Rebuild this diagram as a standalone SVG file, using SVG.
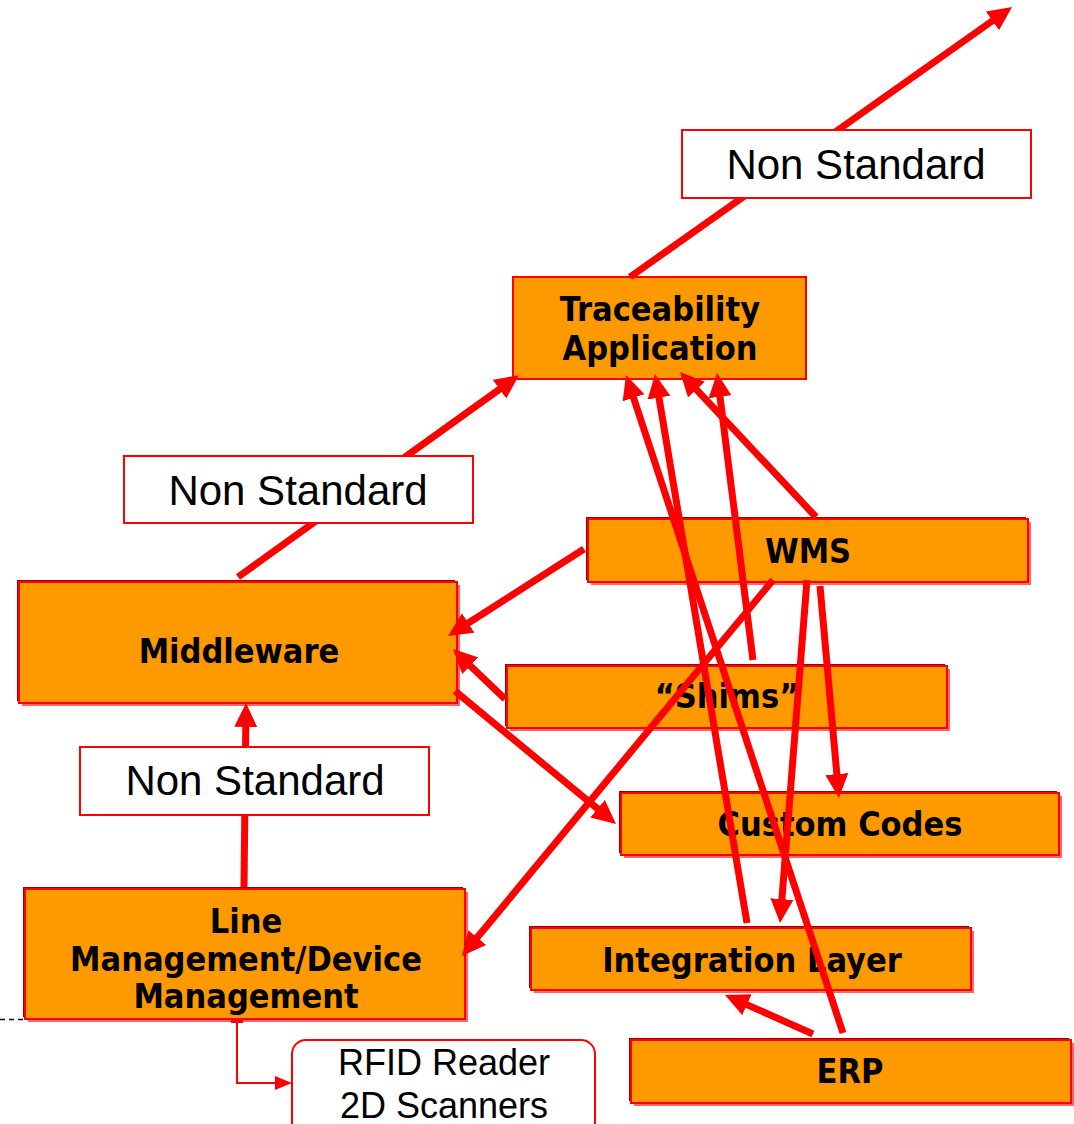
<svg xmlns="http://www.w3.org/2000/svg" width="1074" height="1124" viewBox="0 0 1074 1124">
<defs>
<style>
.sh1{fill:#990000}
.sh2{fill:#FF6666}
.box{fill:#FF9900;stroke:#FF0000;stroke-width:2}
.wbox{fill:#FFFFFF;stroke:#FF0000;stroke-width:2}
.bt{font-family:"DejaVu Sans Condensed","DejaVu Sans",sans-serif;font-stretch:condensed;font-weight:bold;font-size:34px;fill:#000;text-anchor:middle}
.nt{font-family:"Liberation Sans",Arial,sans-serif;font-size:42px;fill:#000;text-anchor:middle}
.rt{font-family:"Liberation Sans",Arial,sans-serif;font-size:36px;fill:#000;text-anchor:middle}
.ln{stroke:#FF0000;stroke-width:7;fill:none;marker-end:url(#ah)}
</style>
<marker id="ah" markerUnits="userSpaceOnUse" markerWidth="24" markerHeight="24" refX="4" refY="11.5" orient="auto" viewBox="0 0 24 23">
<path d="M0,0 L24,11.5 L0,23 z" fill="#FF0000"/>
</marker>
<marker id="sa" markerUnits="userSpaceOnUse" markerWidth="17" markerHeight="14" refX="2" refY="7" orient="auto" viewBox="0 0 17 14">
<path d="M0,0 L17,7 L0,14 z" fill="#FF0000"/>
</marker>
</defs>
<rect x="0" y="0" width="1074" height="1124" fill="#FFFFFF"/>

<g id="traceability">
<rect class="box" x="513" y="277" width="293" height="102"/>
<text class="bt" x="660" y="321">Traceability</text>
<text class="bt" x="660" y="360">Application</text>
</g>
<g id="wms">
<rect class="sh1" x="586" y="517" width="440" height="63"/>
<rect class="sh2" x="591" y="522" width="440" height="63"/>
<rect class="box" x="588" y="519" width="440" height="63"/>
<text class="bt" x="808" y="563">WMS</text>
</g>
<g id="middleware">
<rect class="sh1" x="17" y="580" width="438" height="121"/>
<rect class="sh2" x="22" y="585" width="438" height="121"/>
<rect class="box" x="19" y="582" width="438" height="121"/>
<text class="bt" x="239" y="663">Middleware</text>
</g>
<g id="shims">
<rect class="sh1" x="505" y="664" width="440" height="62"/>
<rect class="sh2" x="510" y="669" width="440" height="62"/>
<rect class="box" x="507" y="666" width="440" height="62"/>
<text class="bt" x="727" y="708">“Shims”</text>
</g>
<g id="custom-codes">
<rect class="sh1" x="619" y="791" width="438" height="62"/>
<rect class="sh2" x="624" y="796" width="438" height="62"/>
<rect class="box" x="621" y="793" width="438" height="62"/>
<text class="bt" x="840" y="836">Custom Codes</text>
</g>
<g id="integration-layer">
<rect class="sh1" x="529" y="926" width="440" height="62"/>
<rect class="sh2" x="534" y="931" width="440" height="62"/>
<rect class="box" x="531" y="928" width="440" height="62"/>
<text class="bt" x="752" y="972">Integration Layer</text>
</g>
<g id="erp">
<rect class="sh1" x="629" y="1038" width="440" height="63"/>
<rect class="sh2" x="634" y="1043" width="440" height="63"/>
<rect class="box" x="631" y="1040" width="440" height="63"/>
<text class="bt" x="850" y="1083">ERP</text>
</g>
<g id="line-management">
<rect class="sh1" x="23" y="887" width="440" height="130"/>
<rect class="sh2" x="28" y="892" width="440" height="130"/>
<rect class="box" x="25" y="889" width="440" height="130"/>
<text class="bt" x="246" y="933">Line</text>
<text class="bt" x="246" y="971">Management/Device</text>
<text class="bt" x="246" y="1008">Management</text>
</g>

<g id="connectors">
<line class="ln" x1="630" y1="277" x2="995.7" y2="18.5"/>
<line class="ln" x1="238" y1="577" x2="502.8" y2="386.8"/>
<line class="ln" x1="244" y1="887" x2="245.8" y2="723"/>
<line class="ln" x1="584" y1="549" x2="464.9" y2="625.2"/>
<line class="ln" x1="505" y1="699" x2="467.4" y2="662.9"/>
<line class="ln" x1="455" y1="691" x2="600.6" y2="811.3"/>
<line class="ln" x1="773" y1="580" x2="474.7" y2="940.6"/>
<line class="ln" x1="807" y1="580" x2="781.6" y2="903.1"/>
<line class="ln" x1="820" y1="586" x2="837.2" y2="778.1"/>
<line class="ln" x1="816" y1="517" x2="693.7" y2="386.6"/>
<line class="ln" x1="753" y1="660" x2="719.5" y2="392.8"/>
<line class="ln" x1="747" y1="923" x2="658.3" y2="393.7"/>
<line class="ln" x1="843" y1="1033" x2="632.3" y2="394"/>
<line class="ln" x1="813" y1="1034" x2="743.3" y2="1003.1"/>
<rect x="231" y="1020" width="12" height="3" fill="#FF0000"/>
<polyline points="237,1021 237,1083 277,1083" fill="none" stroke="#FF0000" stroke-width="2" marker-end="url(#sa)"/>
<line x1="0" y1="1019.5" x2="28" y2="1019.5" stroke="#000" stroke-width="1.5" stroke-dasharray="5,4"/>
</g>

<g id="non-standard-top">
<rect class="wbox" x="682" y="130" width="349" height="68"/>
<text class="nt" x="856" y="179">Non Standard</text>
</g>
<g id="non-standard-mid">
<rect class="wbox" x="124" y="456" width="349" height="67"/>
<text class="nt" x="298" y="505">Non Standard</text>
</g>
<g id="non-standard-low">
<rect class="wbox" x="80" y="747" width="349" height="68"/>
<text class="nt" x="255" y="795">Non Standard</text>
</g>
<g id="rfid">
<rect class="wbox" x="292" y="1040" width="303" height="110" rx="14" ry="14" stroke-width="1.5"/>
<text class="rt" x="444" y="1075">RFID Reader</text>
<text class="rt" x="444" y="1118">2D Scanners</text>
</g>
</svg>
